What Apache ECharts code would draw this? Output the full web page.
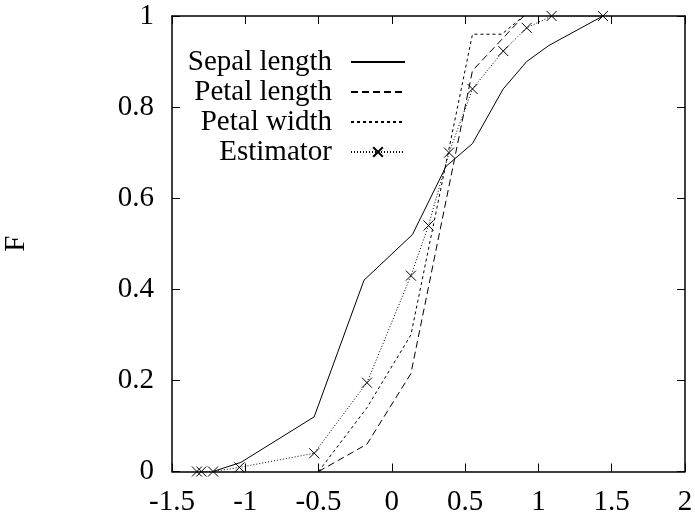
<!DOCTYPE html>
<html><head><meta charset="utf-8">
<script src="https://cdn.jsdelivr.net/npm/echarts@6/dist/echarts.min.js"></script>
<style>html,body{margin:0;padding:0;background:#fff}#c{width:695px;height:523px}</style>
</head><body><div id="c"></div>
<script>
var xTicks = [-1.5, -1, -0.5, 0, 0.5, 1, 1.5, 2];
var yTicks = [0, 0.2, 0.4, 0.6, 0.8, 1];
var sepalLength = [[-1.22,0],[-1.03,0.02],[-0.53,0.12],[-0.19,0.42],[0.14,0.52],[0.37,0.67],[0.55,0.72],[0.76,0.84],[0.92,0.90],[1.07,0.935],[1.44,1.0]];
var petalLength = [[-0.5,0],[-0.17,0.06],[0.13,0.215],[0.55,0.88],[0.9,1.0]];
var petalWidth = [[-0.5,0],[-0.17,0.14],[0.13,0.30],[0.55,0.96],[0.75,0.96],[0.9,1.0]];
var estimator = [[-1.33,0],[-1.30,0],[-1.22,0],[-1.04,0.009],[-0.53,0.04],[-0.17,0.195],[0.13,0.43],[0.25,0.54],[0.39,0.70],[0.55,0.84],[0.76,0.923],[0.92,0.974],[1.09,1.0],[1.44,1.0]];
var seriesNames = ['Sepal length','Petal length','Petal width','Estimator'];

var font = 'Liberation Serif';
var fs = 29;
var chart = echarts.init(document.getElementById('c'), null, {renderer:'canvas'});
var xMin = xTicks[0], xMax = xTicks[xTicks.length-1];
var yMin = yTicks[0], yMax = yTicks[yTicks.length-1];
var lineAx = {show:true, onZero:false, lineStyle:{color:'#000', width:1.5}};
var tickAx = {show:true, inside:true, length:8, lineStyle:{color:'#000', width:1}};
var hideSym = {opacity:0};
chart.setOption({
  animation:false,
  backgroundColor:'#fff',
  grid:{left:172, top:16, right:10, bottom:51.5, containLabel:false, outerBoundsMode:'none'},
  legend:{
    orient:'vertical', right:284, top:42, align:'right',
    itemWidth:54, itemHeight:12, itemGap:0,
    textStyle:{fontFamily:font, fontSize:fs, lineHeight:30, color:'#000', padding:[0,14,0,0]},
    data:[
      {name:seriesNames[0], itemStyle:hideSym},
      {name:seriesNames[1], itemStyle:hideSym},
      {name:seriesNames[2], itemStyle:hideSym},
      {name:seriesNames[3]}
    ]
  },
  xAxis:[
    {type:'value', min:xMin, max:xMax, interval:0.5, position:'bottom',
     axisLine:lineAx, axisTick:tickAx, splitLine:{show:false},
     axisLabel:{fontFamily:font, fontSize:fs, color:'#000', margin:16}},
    {type:'value', min:xMin, max:xMax, interval:0.5, position:'top',
     axisLine:lineAx, axisTick:tickAx, splitLine:{show:false}, axisLabel:{show:false}}
  ],
  yAxis:[
    {type:'value', min:yMin, max:yMax, interval:0.2, position:'left',
     name:'F', nameLocation:'middle', nameRotate:90, nameGap:141,
     nameTextStyle:{fontFamily:font, fontSize:fs, color:'#000'},
     axisLine:lineAx, axisTick:tickAx, splitLine:{show:false},
     axisLabel:{fontFamily:font, fontSize:fs, color:'#000', margin:18}},
    {type:'value', min:yMin, max:yMax, interval:0.2, position:'right',
     axisLine:lineAx, axisTick:tickAx, splitLine:{show:false}, axisLabel:{show:false}}
  ],
  series:[
    {name:seriesNames[0], type:'line', data:sepalLength, symbol:'none', color:'#000',
     lineStyle:{color:'#000', width:1, type:'solid'}},
    {name:seriesNames[1], type:'line', data:petalLength, symbol:'none', color:'#000',
     lineStyle:{color:'#000', width:1, type:[7,4]}},
    {name:seriesNames[2], type:'line', data:petalWidth, symbol:'none', color:'#000',
     lineStyle:{color:'#000', width:1, type:[3,3]}},
    {name:seriesNames[3], type:'line', data:estimator, color:'#000',
     symbol:'path://M0,0L10,10M10,0L0,10', symbolSize:10, showAllSymbol:true,
     itemStyle:{color:'none', borderColor:'#000', borderWidth:1},
     lineStyle:{color:'#000', width:1, type:[1,2]}}
  ]
});
</script></body></html>
